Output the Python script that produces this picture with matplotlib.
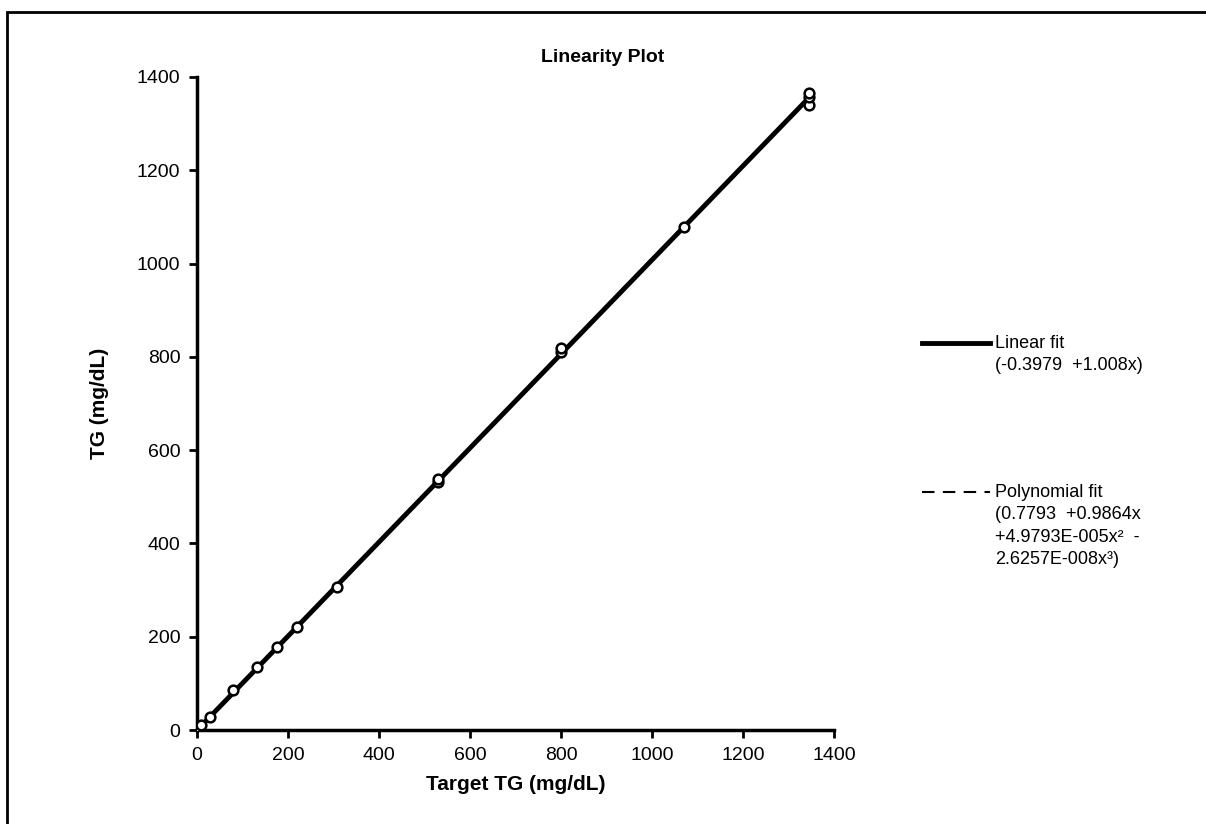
import numpy as np
import matplotlib.pyplot as plt
from matplotlib.lines import Line2D
from matplotlib.patches import Rectangle

plt.rcParams['font.family'] = ['Liberation Sans', 'DejaVu Sans']

# measured points (replicates at some levels)
target = [0, 8, 28, 80, 133, 177, 221, 307, 530, 530, 800, 800, 1070, 1345, 1345, 1345]
measured = [4, 10, 27, 85, 136, 178, 220, 306, 532, 538, 810, 820, 1078, 1340, 1357, 1366]

lin_coef = [-0.3979, 1.008]
poly_coef = [0.7793, 0.9864, 4.9793e-5, -2.6257e-8]
lin_label = 'Linear fit\n(-0.3979  +1.008x)'
poly_label = 'Polynomial fit\n(0.7793  +0.9864x\n+4.9793E-005x\u00b2  -\n2.6257E-008x\u00b3)'

fig = plt.figure(figsize=(12.06, 8.24), dpi=100)
ax = fig.add_axes([0.1633, 0.114, 0.5282, 0.7926])

xf = np.linspace(0, max(target), 200)
y_lin = lin_coef[0] + lin_coef[1] * xf
y_poly = sum(c * xf**i for i, c in enumerate(poly_coef))

ax.plot(xf, y_lin, color='black', lw=3.5, solid_capstyle='butt')
ax.plot(xf, y_poly, color='black', lw=1.5, ls=(0, (6, 4)))
ax.plot(target, measured, 'o', ms=7, mfc='white', mec='black', mew=1.8, zorder=3)

ax.set_xlim(0, 1400)
ax.set_ylim(0, 1400)
ax.set_xticks(range(0, 1401, 200))
ax.set_yticks(range(0, 1401, 200))
ax.spines['top'].set_visible(False)
ax.spines['right'].set_visible(False)
for s in ['left', 'bottom']:
    ax.spines[s].set_linewidth(2.5)
ax.tick_params(direction='out', length=6, width=2, labelsize=14, pad=6)

ax.set_xlabel('Target TG (mg/dL)', fontsize=15, fontweight='bold', labelpad=8)
ax.set_ylabel('TG (mg/dL)', fontsize=15, fontweight='bold', labelpad=20)
fig.text(0.5, 0.93, 'Linearity Plot', ha='center', va='center',
         fontsize=14, fontweight='bold')

# legend, drawn by hand to keep the handle next to the first text line
fig.add_artist(Line2D([922 / 1206, 990 / 1206], [1 - 343 / 824] * 2,
                      color='black', lw=3.5, transform=fig.transFigure))
fig.add_artist(Line2D([922 / 1206, 990 / 1206], [1 - 492 / 824] * 2,
                      color='black', lw=1.5, ls=(0, (6, 4)),
                      transform=fig.transFigure))
fig.text(995 / 1206, 1 - 335 / 824, lin_label, ha='left', va='top',
         fontsize=13, linespacing=1.42)
fig.text(995 / 1206, 1 - 484 / 824, poly_label, ha='left', va='top',
         fontsize=13, linespacing=1.42)

# outer frame
fig.add_artist(Rectangle((7 / 1206, -0.05), 1.2, 1 - 12 / 824 + 0.05,
                         fill=False, lw=2, ec='black',
                         transform=fig.transFigure))

fig.savefig('out.png', dpi=100)
